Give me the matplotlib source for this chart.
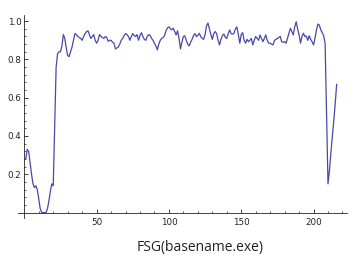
import numpy as np
import matplotlib
matplotlib.use("Agg")
import matplotlib.pyplot as plt
from matplotlib.ticker import FixedLocator

# sample index 1..216 and the measured fraction
ratio = [
    0.28, 0.33, 0.32, 0.26, 0.20, 0.15, 0.13, 0.14, 0.12, 0.07,
    0.02, 0.0, 0.0, 0.0, 0.0, 0.02, 0.06, 0.11, 0.15, 0.14,
    0.45, 0.76, 0.83, 0.84, 0.84, 0.87, 0.93, 0.91, 0.86, 0.82,
    0.815, 0.84, 0.865, 0.90, 0.935, 0.93, 0.92, 0.915, 0.91, 0.90,
    0.92, 0.935, 0.945, 0.95, 0.93, 0.91, 0.92, 0.93, 0.90, 0.885,
    0.90, 0.93, 0.92, 0.915, 0.91, 0.92, 0.915, 0.895, 0.90, 0.90,
    0.89, 0.885, 0.855, 0.86, 0.865, 0.88, 0.90, 0.91, 0.925, 0.935,
    0.93, 0.92, 0.90, 0.92, 0.935, 0.925, 0.92, 0.93, 0.90, 0.925,
    0.94, 0.92, 0.905, 0.90, 0.92, 0.93, 0.925, 0.91, 0.90, 0.885,
    0.87, 0.85, 0.88, 0.90, 0.91, 0.915, 0.925, 0.95, 0.965, 0.97,
    0.96, 0.955, 0.963, 0.945, 0.928, 0.95, 0.91, 0.855, 0.89, 0.92,
    0.924, 0.90, 0.88, 0.871, 0.89, 0.905, 0.925, 0.935, 0.92, 0.925,
    0.937, 0.92, 0.91, 0.905, 0.93, 0.975, 0.99, 0.96, 0.93, 0.905,
    0.935, 0.946, 0.935, 0.90, 0.876, 0.905, 0.925, 0.933, 0.915, 0.91,
    0.935, 0.954, 0.935, 0.933, 0.937, 0.96, 0.97, 0.93, 0.885, 0.93,
    0.94, 0.90, 0.885, 0.905, 0.893, 0.90, 0.91, 0.876, 0.90, 0.92,
    0.91, 0.90, 0.928, 0.91, 0.893, 0.91, 0.928, 0.90, 0.885, 0.885,
    0.88, 0.876, 0.90, 0.905, 0.91, 0.915, 0.92, 0.893, 0.89, 0.893,
    0.885, 0.91, 0.937, 0.963, 0.945, 0.928, 0.97, 0.997, 0.96, 0.93,
    0.885, 0.92, 0.937, 0.92, 0.922, 0.90, 0.924, 0.905, 0.893, 0.876,
    0.91, 0.954, 0.985, 0.98, 0.955, 0.94, 0.925, 0.885, 0.52, 0.15,
    0.22, 0.31, 0.40, 0.48, 0.57, 0.67,
]
index = np.arange(1, len(ratio) + 1)

x_ticks = [50, 100, 150, 200]
y_ticks = [0.2, 0.4, 0.6, 0.8, 1.0]

fig = plt.figure(figsize=(3.59, 2.69), dpi=100)
ax = fig.add_axes([0.050, 0.19, 0.916, 0.754])

ax.plot(index, np.clip(ratio, 0, None), color="#4848a8", lw=0.9)

ax.set_xlim(-4.4, 223)
ax.set_ylim(-0.028, 1.032)
for s in ["top", "right"]:
    ax.spines[s].set_visible(False)
ax.spines["left"].set_position(("data", 0))
ax.spines["bottom"].set_position(("data", 0))
for s in ["left", "bottom"]:
    ax.spines[s].set_linewidth(0.6)
    ax.spines[s].set_color("#222222")

ax.set_xticks(x_ticks)
ax.set_xticklabels([str(t) for t in x_ticks])
ax.set_yticks(y_ticks)
ax.set_yticklabels(["%.1f" % t for t in y_ticks])
ax.xaxis.set_minor_locator(FixedLocator([t for t in range(10, 230, 10) if t % 50]))
ax.yaxis.set_minor_locator(FixedLocator([round(0.04 * i, 2) for i in range(1, 26) if i % 5]))
ax.tick_params(which="major", direction="in", length=3.0, width=0.6,
               labelsize=6.3, colors="#222222", pad=4)
ax.tick_params(which="minor", direction="in", length=1.6, width=0.5, colors="#222222")
ax.tick_params(axis="y", which="major", pad=2)

fig.text(200 / 359, 1 - 248 / 269, "FSG(basename.exe)", ha="center", va="center",
         fontsize=10, family="Open Sans", color="#222222")

fig.savefig("out.png", dpi=100)
